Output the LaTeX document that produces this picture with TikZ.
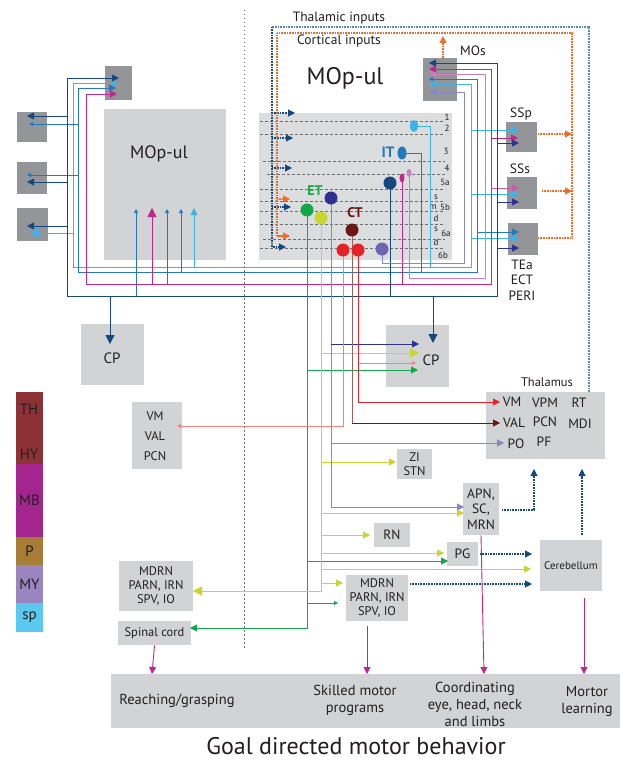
\documentclass[tikz,border=0pt]{standalone}
\usepackage{fontspec}
\setmainfont{PT Sans}
\usetikzlibrary{arrows.meta,shapes.geometric}
\definecolor{dkblue}{RGB}{22,72,128}
\definecolor{mdblue}{RGB}{36,120,190}
\definecolor{ltblue}{RGB}{60,180,232}
\definecolor{magen}{RGB}{192,40,140}
\definecolor{orchidc}{RGB}{208,124,192}
\definecolor{purp}{RGB}{110,100,176}
\definecolor{lavend}{RGB}{138,134,200}
\definecolor{indig}{RGB}{46,49,146}
\definecolor{grn}{RGB}{18,168,74}
\definecolor{limegr}{RGB}{200,214,48}
\definecolor{dkred}{RGB}{110,21,21}
\definecolor{rd}{RGB}{229,34,40}
\definecolor{salmonc}{RGB}{240,133,127}
\definecolor{brn}{RGB}{160,96,90}
\definecolor{orng}{RGB}{242,107,42}
\definecolor{thalblue}{RGB}{90,140,190}
\definecolor{dkgray}{RGB}{147,149,152}
\definecolor{ltgray}{RGB}{209,211,212}
\definecolor{laygray}{RGB}{220,221,222}
\definecolor{linegray}{RGB}{109,110,113}
\definecolor{thcol}{RGB}{140,50,54}
\definecolor{mbcol}{RGB}{165,37,143}
\definecolor{pcol}{RGB}{166,124,55}
\definecolor{mycol}{RGB}{155,133,191}
\definecolor{spcol}{RGB}{91,200,240}
\definecolor{txt}{RGB}{35,31,32}
\tikzset{
  tip/.style={-{Triangle[length=7pt,width=7pt]}},
  bigtip/.style={-{Triangle[length=9pt,width=9pt]}},
  smalltip/.style={-{Triangle[length=4pt,width=4pt]}},
  dkbox/.style={fill=dkgray, inner sep=0pt},
  ltbox/.style={fill=ltgray, inner sep=0pt, align=center},
  dotw/.style={line width=1.1pt, dash pattern=on 0.8pt off 0.8pt},
  layer/.style={linegray, line width=0.6pt, dash pattern=on 3pt off 2pt},
  lay/.style={font=\fontsize{9}{10}\selectfont, inner sep=0pt},
  neuron/.style={circle, inner sep=0pt, minimum size=13pt},
  small/.style={font=\fontsize{12.5}{14}\selectfont},
  barbox/.style={inner sep=0pt, minimum width=27pt, font=\fontsize{15}{17}\selectfont}
}
\begin{document}
\begin{tikzpicture}[x=1pt, y=-1pt, line width=0.9pt, font=\fontsize{13.5}{15}\selectfont, text=txt]
\useasboundingbox[fill=white] (0,0) rectangle (628,762);

% midline
\draw[linegray, line width=0.6pt, dash pattern=on 1.5pt off 2.5pt] (244,10) -- (244,648);

% ---- left hemisphere boxes
\node[dkbox, minimum width=27pt, minimum height=34pt] (tbox) at (118.5,83) {};
\node[dkbox, minimum width=30pt, minimum height=30pt] (abox) at (32,127) {};
\node[dkbox, minimum width=30pt, minimum height=32pt] (bbox) at (32,178) {};
\node[dkbox, minimum width=31pt, minimum height=33pt] (cbox) at (32.5,224.5) {};
\node[ltbox, minimum width=122pt, minimum height=151pt] (mopl) at (165,184.5) {};
\node[font=\fontsize{18}{20}\selectfont] (mopltxt) at (159,154) {MOp-ul};

% ---- right hemisphere boxes
\node[fill=laygray, inner sep=0pt, minimum width=193pt, minimum height=147pt] (mopr) at (355.5,186.5) {};
\node[font=\fontsize{24}{26}\selectfont] (moprtxt) at (345,78) {MOp-ul};
\node[dkbox, minimum width=34pt, minimum height=43pt] (mos) at (440,79.5) {};
\node (mostxt) at (473,51) {MOs};
\node[dkbox, minimum width=31pt, minimum height=30pt] (ssp) at (521.5,137) {};
\node (ssptxt) at (521,114) {SSp};
\node[dkbox, minimum width=30pt, minimum height=32pt] (sss) at (522,193) {};
\node (ssstxt) at (520,169) {SSs};
\node[dkbox, minimum width=30pt, minimum height=32pt] (tea) at (523,239) {};
\node[align=center, font=\fontsize{13.5}{15.5}\selectfont] (teatxt) at (522,280) {TEa\\ECT\\PERI};

% layers
\foreach \ly/\lx in {121/260,134/260,161/263,174/267,189/260,201/260,211/260,224/260,239/263,248/260}
  \draw[layer] (\lx,\ly) -- (445,\ly);
\node[lay] (l1) at (447,117) {1};
\node[lay] (l2t) at (447,128) {2};
\node[lay] (l3) at (446,151) {3};
\node[lay] (l4) at (447,168) {4};
\node[lay] (l5a) at (445,182) {5a};
\node[lay] (l5s) at (436,197) {s};
\node[lay] (l5m) at (433,207) {m};
\node[lay] (l5b) at (445,207) {5b};
\node[lay] (l5d) at (436,218) {d};
\node[lay] (l6s) at (436,229) {s};
\node[lay] (l6a) at (446,233) {6a};
\node[lay] (l6d) at (436,242) {d};
\node[lay] (l6b) at (443,255) {6b};

% ---- lower boxes
\node[ltbox, minimum width=63pt, minimum height=61pt] (cpl) at (112.5,354.5) {};
\node[font=\fontsize{15}{17}\selectfont] (cpltxt) at (112,358) {CP};
\node[ltbox, minimum width=63pt, minimum height=62pt] (cpr) at (417.5,356) {};
\node[font=\fontsize{15}{17}\selectfont] (cprtxt) at (431,360) {CP};
\node[ltbox, minimum width=50pt, minimum height=67pt] (vml) at (157,435.5) {};
\node[align=center, font=\fontsize{12.5}{20}\selectfont] (vmltxt) at (155,436) {VM\\VAL\\PCN};
\node[ltbox, minimum width=119pt, minimum height=67pt] (thal) at (545.5,425.5) {};
\node[small] (thaltxt) at (547,382) {Thalamus};
\node (vm) at (512,402) {VM};
\node (vpm) at (545,403) {VPM};
\node (rt) at (579,403) {RT};
\node (val) at (514,423) {VAL};
\node (pcn) at (545,422) {PCN};
\node (mdi) at (580,424) {MDI};
\node (po) at (516,444) {PO};
\node (pf) at (544,442) {PF};
\node[ltbox, small, minimum width=35pt, minimum height=30pt] (zi) at (414.5,464) {ZI\\STN};
\node[ltbox, minimum width=36pt, minimum height=52pt, font=\fontsize{13.5}{15.5}\selectfont] (apn) at (481,509) {APN,\\SC,\\MRN};
\node[ltbox, minimum width=36pt, minimum height=24pt] (rn) at (392,535) {RN};
\node[ltbox, minimum width=31pt, minimum height=24pt] (pg) at (462.5,554) {PG};
\node[ltbox, minimum width=62pt, minimum height=51pt, font=\fontsize{11}{13}\selectfont] (cb) at (571,565.5) {Cerebellum};
\node[ltbox, small, minimum width=62pt, minimum height=46pt] (mdr) at (377,598) {MDRN\\PARN, IRN\\SPV, IO};
\node[ltbox, small, minimum width=74pt, minimum height=50pt] (mdl) at (156,586) {MDRN\\PARN, IRN\\SPV, IO};
\node[ltbox, small, minimum width=73pt, minimum height=24pt] (spc) at (154.5,633) {Spinal cord};
\node[ltbox, minimum width=509pt, minimum height=54pt] (beh) at (365.5,701) {};
\node[align=center, font=\fontsize{14.5}{17}\selectfont] (reach) at (177,701) {Reaching/grasping};
\node[align=center, font=\fontsize{14.5}{17}\selectfont] (skill) at (355,700) {Skilled motor\\programs};
\node[align=center, font=\fontsize{14.5}{17}\selectfont] (coord) at (475,704) {Coordinating\\eye, head, neck\\and limbs};
\node[align=center, font=\fontsize{14.5}{17}\selectfont] (learn) at (587,701) {Mortor\\learning};
\node[font=\fontsize{24}{27}\selectfont] (goal) at (356,746) {Goal directed motor behavior};

% brain division bar
\node[barbox, fill=thcol, minimum height=72pt] (thhy) at (29.5,428) {};
\node[font=\fontsize{15}{17}\selectfont] (thtxt) at (29,409) {TH};
\node[font=\fontsize{15}{17}\selectfont] (hytxt) at (29,454) {HY};
\node[barbox, fill=mbcol, minimum height=73pt] (mb) at (29.5,500.5) {MB};
\node[barbox, fill=pcol, minimum height=28pt] (pb) at (29.5,551) {P};
\node[barbox, fill=mycol, minimum height=38pt] (my) at (29.5,584) {MY};
\node[barbox, fill=spcol, minimum height=29pt] (sp) at (29.5,617.5) {sp};

% neuron positions
\coordinate (n2) at (414,126);
\coordinate (it) at (402,153);
\coordinate (or5) at (409,173);
\coordinate (mg5) at (402,178);
\coordinate (db5) at (390,183);
\coordinate (et1) at (307,210);
\coordinate (et2) at (321,218);
\coordinate (et3) at (331,198);
\coordinate (ct1) at (352,230);
\coordinate (ct2) at (343,250);
\coordinate (ct3) at (358,250);
\coordinate (n6b) at (382,249);

% ---- inputs
\node (thin) at (339,18) {Thalamic inputs};
\node (ctin) at (339,41) {Cortical inputs};
\draw[thalblue, dotw] (589,392) -- (589,27) -- (272,27);
\draw[dkblue, dotw] (272,27) -- (272,247) -- (280,247);
\draw[dkblue, dotw, tip] (278,247) -- (286,247);
\foreach \ty/\tx in {113/295,138/293,168/292,207/291}
  \draw[dkblue, dotw, tip] (272,\ty) -- (\tx,\ty);
\draw[orng, dotw] (538,238) -- (572,238) -- (572,33) -- (277,33) -- (277,236) -- (282,236);
\foreach \ty in {199,236}
  \draw[orng, dotw, tip] (277,\ty) -- (290,\ty);
\draw[orng, dotw, tip] (538,134) -- (572,134);
\draw[orng, dotw, tip] (542,191) -- (572,191);
\draw[orng, dotw, tip] (443,58) -- (443,36);

% ---- IT / PT wiring
% light blue
\draw[ltblue] (n2) -- (430,126) -- (430,267);
\draw[ltblue, tip] (73,267) -- (471,267) -- (471,84) -- (429,84);
\draw[ltblue, tip] (73,267) -- (73,83) -- (118,83);
\draw[ltblue, bigtip] (73,233) -- (30,233);
\draw[ltblue, tip] (194,267) -- (194,208);
\foreach \ty in {130,194,238}
  \draw[ltblue, tip] (471,\ty) -- (519,\ty);
% blue
\draw[mdblue] (it) -- (421,153) -- (421,272);
\draw[mdblue, smalltip] (78,272) -- (477,272) -- (477,79) -- (429,79);
\draw[mdblue, tip] (78,272) -- (78,88) -- (116,88);
\draw[mdblue, smalltip] (78,124) -- (29,124);
\draw[mdblue, smalltip] (78,175) -- (27,175);
\draw[mdblue, smalltip] (181,272) -- (181,209);
\draw[mdblue, smalltip] (167,284) -- (167,209);
\draw[mdblue, smalltip] (136,296) -- (136,209);
\draw[mdblue, tip] (477,232) -- (519,232);
% orchid
\draw[orchidc, tip] (or5) -- (409,278) -- (485,278) -- (485,74) -- (429,74);
% magenta
\draw[magen] (mg5) -- (402,284);
\draw[magen, tip] (86,284) -- (491,284) -- (491,69) -- (429,69);
\draw[magen, tip] (86,284) -- (86,94) -- (117,94);
\draw[magen, bigtip] (152,284) -- (152,208);
\draw[magen, tip] (491,138) -- (518,138);
\draw[orchidc!60!magen, tip] (491,188) -- (519,188);
% dark blue
\draw[dkblue] (db5) -- (390,296);
\draw[dkblue, tip] (67,296) -- (497,296) -- (497,63) -- (429,63);
\draw[dkblue, tip] (67,296) -- (67,78) -- (119,78);
\foreach \ty in {116,182,226}
  \draw[dkblue, tip] (67,\ty) -- (27,\ty);
\draw[dkblue, bigtip] (110,296) -- (110,344);
\draw[dkblue, bigtip] (433,296) -- (433,343);
\foreach \ty in {143,202,248}
  \draw[indig, tip] (497,\ty) -- (519,\ty);
% purple 6b
\draw[lavend, tip] (n6b) -- (382,263) -- (464,263) -- (464,92) -- (429,92);

% ---- ET / CT wiring
\draw[grn, tip] (et1) -- (307,628) -- (190,628);
\draw[grn, tip] (307,370) -- (418,370);
\draw[grn, tip] (307,561) -- (448,561);
\draw[grn, smalltip] (307,603) -- (338,603);
\draw[limegr, bigtip] (et2) -- (321,591) -- (193,591);
\draw[limegr, bigtip] (321,353) -- (419,353);
\foreach \ty/\tx in {462/396,513/464,535/370,553/444,569/531,583/343}
  \draw[limegr, tip] (321,\ty) -- (\tx,\ty);
\draw[lavend, tip] (et3) -- (331,507) -- (464,507);
\draw[indig, tip] (331,344) -- (419,344);
\draw[lavend, tip] (331,443) -- (504,443);
\draw[salmonc, smalltip] (ct2) -- (343,426) -- (177,426);
\draw[salmonc, smalltip] (358,363) -- (416,363);
\draw[brn] (ct1) -- (352,423);
\draw[dkred, tip] (352,423) -- (500,423);
\draw[rd, tip] (ct3) -- (358,402) -- (500,402);

% neurons
\node[ellipse, fill=ltblue, inner sep=0pt, minimum width=8pt, minimum height=12pt] (n2c) at (n2) {};
\node[ellipse, fill=mdblue, inner sep=0pt, minimum width=9pt, minimum height=13pt] (itc) at (it) {};
\node[ellipse, fill=orchidc, inner sep=0pt, minimum width=5pt, minimum height=8pt] (or5c) at (or5) {};
\node[ellipse, fill=magen, inner sep=0pt, minimum width=5pt, minimum height=9pt] (mg5c) at (mg5) {};
\node[neuron, fill=dkblue] (db5c) at (db5) {};
\node[neuron, fill=grn] (et1c) at (et1) {};
\node[neuron, fill=limegr] (et2c) at (et2) {};
\node[neuron, fill=indig] (et3c) at (et3) {};
\node[neuron, fill=dkred] (ct1c) at (ct1) {};
\node[neuron, fill=rd] (ct2c) at (ct2) {};
\node[neuron, fill=rd] (ct3c) at (ct3) {};
\node[neuron, fill=purp] (n6bc) at (n6b) {};
\node[text=mdblue, font=\fontsize{15}{17}\selectfont\bfseries] (ittxt) at (388,152) {IT};
\node[text=grn, font=\fontsize{14}{16}\selectfont\bfseries] (ettxt) at (315,191) {ET};
\node[text=dkred, font=\fontsize{14}{16}\selectfont\bfseries] (cttxt) at (355,213) {CT};

% ---- subcortical outputs
\draw[dkblue, dotw, tip] (502,510) -- (534,510) -- (534,469);
\draw[dkblue, dotw, tip] (480,554) -- (532,554);
\draw[dkblue, dotw, tip] (410,584) -- (532,584);
\draw[dkblue, dotw, tip] (582,535) -- (582,469);
\draw[magen, tip] (spc.south) -- (152,674);
\draw[magen, tip] (367,626) -- (367,674);
\draw[magen, tip] (apn.south) -- (484,674);
\draw[magen, tip] (584,598) -- (584,674);
\end{tikzpicture}
\end{document}
